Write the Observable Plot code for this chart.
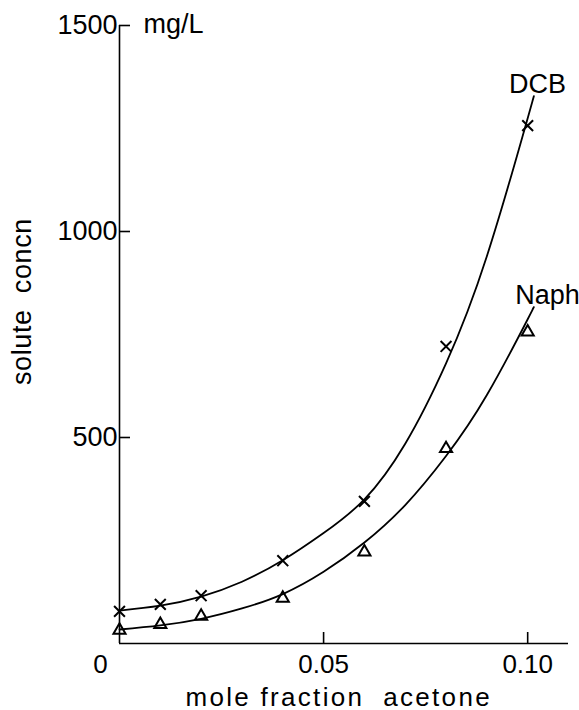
<!DOCTYPE html>
<html>
<head>
<meta charset="utf-8">
<script src="https://cdn.jsdelivr.net/npm/d3@7"></script>
<script src="https://cdn.jsdelivr.net/npm/@observablehq/plot@0.6"></script>
<style>
  html, body { margin: 0; padding: 0; background: #fff; }
  #chart svg { display: block; }
</style>
</head>
<body>
<div id="chart"></div>
<script>
// Measured points (mole fraction acetone, solute concn mg/L)
const dcbX = [0, 0.01, 0.02, 0.04, 0.06, 0.08, 0.10];
const dcbY = [78, 95, 116, 201, 345, 721, 1257];
const naphX = [0, 0.01, 0.02, 0.04, 0.06, 0.08, 0.10];
const naphY = [32, 46, 66, 110, 222, 473, 756];

// Smooth fitted curves
const dcbCurveX = [0, 0.01, 0.02, 0.03, 0.04, 0.05, 0.06, 0.07, 0.08, 0.09, 0.10, 0.1012];
const dcbCurveY = [80, 92, 114, 150, 202, 268, 350, 485, 680, 940, 1275, 1318];
const naphCurveX = [0, 0.01, 0.02, 0.03, 0.04, 0.05, 0.06, 0.07, 0.08, 0.09, 0.10, 0.1012];
const naphCurveY = [34, 44, 60, 85, 120, 174, 245, 336, 455, 603, 787, 811];

const xTicks = [0.05, 0.10];
const xTickLabels = ["0.05", "0.10"];
const yTicks = [500, 1000, 1500];
const yTickLabels = ["500", "1000", "1500"];
const seriesNames = ["DCB", "Naph"];
const xTitle = "mole fraction  acetone";
const yTitle = "solute  concn";
const unitLabel = "mg/L";

const pts = (xs, ys) => xs.map((x, i) => ({x, y: ys[i]}));
const dcbPts = pts(dcbX, dcbY);
const naphPts = pts(naphX, naphY);
const dcbCurve = pts(dcbCurveX, dcbCurveY);
const naphCurve = pts(naphCurveX, naphCurveY);

const font = "'Liberation Sans', Arial, sans-serif";

const chart = Plot.plot({
  width: 579,
  height: 710,
  marginLeft: 119,
  marginRight: 11,
  marginTop: 25,
  marginBottom: 67,
  style: {fontFamily: font, background: "#fff", color: "#000"},
  x: {domain: [0, 0.110]},
  y: {domain: [0, 1500]},
  marks: [
    Plot.ruleX([0], {stroke: "#000", strokeWidth: 1.6}),
    Plot.ruleY([0], {stroke: "#000", strokeWidth: 1.6}),
    Plot.axisY({
      ticks: yTicks,
      tickFormat: (d) => yTickLabels[yTicks.indexOf(d)],
      tickSize: -11,
      tickPadding: 13,
      strokeWidth: 1.6,
      fontSize: 27,
      label: null
    }),
    Plot.axisX({
      ticks: xTicks,
      tickFormat: (d) => xTickLabels[xTicks.indexOf(d)],
      tickSize: -11,
      tickPadding: 22,
      strokeWidth: 1.6,
      fontSize: 26,
      label: null
    }),
    Plot.text(["0"], {x: 0, y: 0, dx: -19, dy: 21, fontSize: 26, textAnchor: "middle"}),
    Plot.text([unitLabel], {x: 0, y: 1500, dx: 24, dy: -1, fontSize: 27, textAnchor: "start"}),
    Plot.text([xTitle], {x: 0.0537, frameAnchor: "bottom", lineAnchor: "bottom", dy: 62, fontSize: 26, textAnchor: "middle"}),
    Plot.text([yTitle], {frameAnchor: "left", y: 830, dx: -97, rotate: -90, fontSize: 27, textAnchor: "middle"}),
    Plot.line(dcbCurve, {x: "x", y: "y", curve: "natural", stroke: "#000", strokeWidth: 1.8}),
    Plot.line(naphCurve, {x: "x", y: "y", curve: "natural", stroke: "#000", strokeWidth: 1.8}),
    Plot.dot(dcbPts, {x: "x", y: "y", symbol: "times", r: 5, stroke: "#000", strokeWidth: 2}),
    Plot.dot(naphPts, {x: "x", y: "y", symbol: "triangle", r: 4.5, stroke: "#000", strokeWidth: 2, fill: "none"}),
    Plot.text([seriesNames[0]], {x: dcbCurveX[dcbCurveX.length - 1], y: dcbCurveY[dcbCurveY.length - 1], dx: 5, dy: -16, fontSize: 27, textAnchor: "middle"}),
    Plot.text([seriesNames[1]], {x: naphCurveX[naphCurveX.length - 1], y: naphCurveY[naphCurveY.length - 1], dx: 15, dy: -14, fontSize: 27, textAnchor: "middle"})
  ]
});
// letter spacing for the hand-lettered axis titles
d3.select(chart).selectAll("text").each(function () {
  const t = this.textContent;
  if (t === xTitle) this.setAttribute("letter-spacing", "2.3");
  if (t === yTitle) this.setAttribute("letter-spacing", "0.6");
});
document.getElementById("chart").appendChild(chart);
</script>
</body>
</html>
